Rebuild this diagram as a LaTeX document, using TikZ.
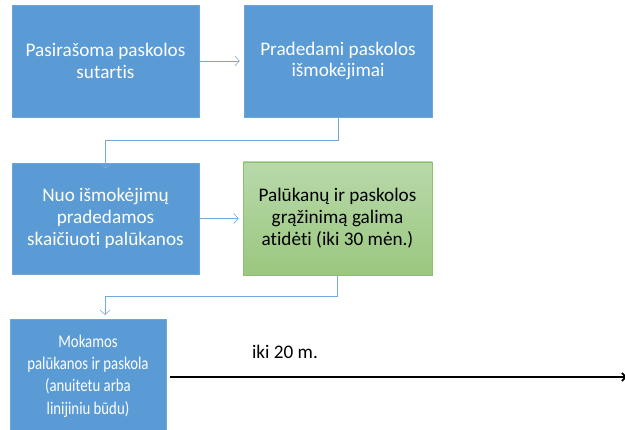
\documentclass[tikz,border=0pt]{standalone}
\usepackage{fontspec}
\setmainfont{Carlito}[Ligatures={NoCommon}]
\newfontfamily\narrowfont{Carlito}[Ligatures={NoCommon}, FakeStretch=0.83]
\usetikzlibrary{arrows.meta,calc}
\definecolor{boxblue}{HTML}{5B9BD5}
\definecolor{boxblueline}{HTML}{6FA6DA}
\definecolor{gtop}{HTML}{B8D9AA}
\definecolor{gbot}{HTML}{9BC77F}
\definecolor{gline}{HTML}{8DC06C}
\tikzset{
  bluebox/.style={rectangle, fill=boxblue, draw=boxblueline, line width=0.6pt, text=white, align=center,
    font=\fontsize{19.2}{21.9}\selectfont, inner sep=0pt},
  greenbox/.style={rectangle, top color=gtop, bottom color=gbot, draw=gline, line width=0.8pt, text=black, align=center,
    font=\fontsize{19.2}{21.9}\selectfont, inner sep=0pt},
  conn/.style={draw=boxblue!85, line width=0.6pt, -{Straight Barb[length=4.5pt,width=10pt]}},
  timeline/.style={draw=black, line width=1.6pt, -{Straight Barb[length=4pt,width=8pt]}}
}
\begin{document}
\begin{tikzpicture}[x=1pt,y=-1pt]
\useasboundingbox (0,0) rectangle (625,430);
\node[bluebox, minimum width=187pt, minimum height=112pt] (b1) at (105.5,61) {Pasirašoma paskolos\\sutartis};
\node[bluebox, minimum width=188pt, minimum height=112pt] (b2) at (338,61) {Pradedami paskolos\\išmokėjimai};
\node[bluebox, minimum width=187pt, minimum height=111pt] (b3) at (105.5,218.5) {Nuo išmokėjimų\\pradedamos\\skaičiuoti palūkanos};
\node[greenbox, minimum width=189pt, minimum height=113pt] (b4) at (337.5,218.5) {Palūkanų ir paskolos\\grąžinimą galima\\atidėti (iki 30 mėn.)};
\node[bluebox, minimum width=156pt, minimum height=114pt, font=\narrowfont\fontsize{17.8}{22.4}\selectfont] (b5) at (88,376) {Mokamos\\palūkanos ir paskola\\(anuitetu arba\\linijiniu būdu)};
\coordinate (t5) at (105,315);
\coordinate (tend) at (627,377);
\coordinate (tstart) at (170,377);
\node[font=\fontsize{19.2}{21.9}\selectfont, text=black] (lbl) at (285,352) {iki 20 m.};
\draw[conn, shorten >=4pt] (b1.east) -- (b2.west);
\draw[conn, shorten >=4pt] (b3.east) -- (b4.west);
\draw[conn] (b2.south) -- ++(0,23) -| ([yshift=-6pt]b3.north);
\draw[conn] (b4.south) -- ++(0,21) -| (t5);
\draw[timeline] (tstart) -- (tend);
\end{tikzpicture}
\end{document}
